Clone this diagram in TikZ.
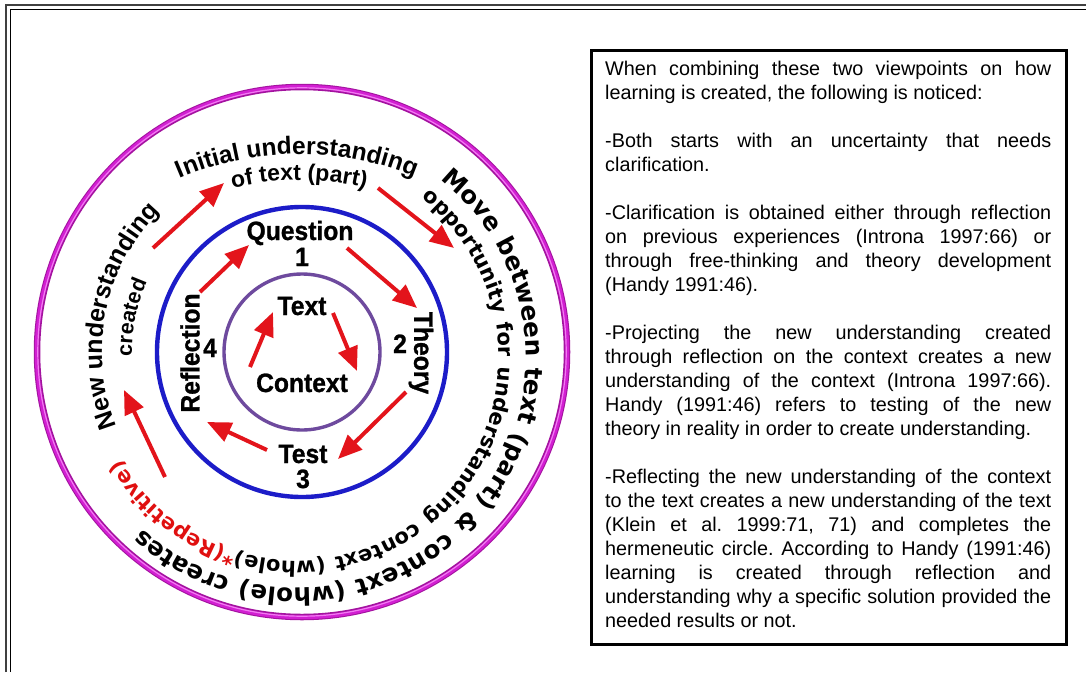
\documentclass[tikz,border=0pt]{standalone}
\usepackage{fontspec}
\setmainfont{Liberation Sans}
\newfontfamily\arialfont{Liberation Sans}
\newfontfamily\labfont{Liberation Sans}[FakeStretch=0.93,FakeBold=1]
\newfontfamily\verdfont{DejaVu Sans}
\usetikzlibrary{arrows.meta,decorations.text}
\definecolor{magdark}{HTML}{A3139F}
\definecolor{magmain}{HTML}{D21FD2}
\definecolor{maglight}{HTML}{F27AF2}
\definecolor{ringblue}{HTML}{1C1CC8}
\definecolor{ringpurple}{HTML}{6E4A9E}
\definecolor{arrred}{HTML}{E3141B}
\definecolor{txtred}{HTML}{E01010}
\newcommand\fmove{\verdfont\bfseries\fontsize{24.5}{28}\selectfont}
\newcommand\fopp{\verdfont\bfseries\fontsize{21}{25}\selectfont}
\newcommand\foppred{\verdfont\bfseries\fontsize{21}{25}\selectfont\color{txtred}}
\newcommand\ftop{\arialfont\bfseries\fontsize{24.5}{28}\selectfont}
\newcommand\fof{\arialfont\bfseries\fontsize{23}{27}\selectfont}
\newcommand\fnew{\arialfont\bfseries\fontsize{25}{29}\selectfont}
\newcommand\fcre{\arialfont\bfseries\fontsize{21.5}{25}\selectfont}
\begin{document}
\begin{tikzpicture}[x=1pt,y=1pt,
  redarr/.style={draw=arrred, line width=4pt, -{Triangle[length=24pt,width=20pt,fill=arrred]}},
  lab/.style={font=\labfont\bfseries\fontsize{26.5}{28}\selectfont, inner sep=0pt},
  curvetext/.style={decorate, decoration={text along path, text align=center}}]
\useasboundingbox (0,0) rectangle (1086,-672);
\fill[white] (0,0) rectangle (1086,-672);
% page frame (double line)
\draw[line width=1.4pt, black!75] (6,-672) -- (6,-5) -- (1086,-5);
\draw[line width=1.4pt, black] (10.5,-672) -- (10.5,-9.5) -- (1086,-9.5);
% centres
\coordinate (C) at (302,-352);
\coordinate (T) at (299,-456);
\coordinate (R) at (296,-358);
% rings
\draw[magdark, line width=6.5pt] (C) circle[radius=265];
\draw[magmain, line width=3.8pt] (C) circle[radius=265.3];
\draw[maglight, line width=1.2pt] (C) circle[radius=264.2];
\draw[ringblue, line width=4.4pt] (C) circle[radius=145];
\draw[ringpurple, line width=3.4pt] (C) circle[radius=78];
% inner labels
\node[lab, anchor=base] (question) at (300,-240) {Question};
\node[lab, anchor=base] (n1) at (302,-266) {1};
\node[lab, anchor=base] (text) at (302,-315) {Text};
\node[lab, anchor=base] (context) at (302,-392) {Context};
\node[lab, anchor=base] (test) at (303,-463) {Test};
\node[lab, anchor=base] (n3) at (303,-488) {3};
\node[lab, anchor=base] (n2) at (400,-353) {2};
\node[lab, anchor=base] (n4) at (210,-357) {4};
\node[lab, rotate=-90] (theory) at (421,-353) {Theory};
\node[lab, rotate=90] (reflection) at (190,-353) {Reflection};
% arrow end points
\coordinate (a1s) at (250,-367); \coordinate (a1e) at (273,-312);
\coordinate (a2s) at (333,-313); \coordinate (a2e) at (357,-371);
\coordinate (a3s) at (347,-248); \coordinate (a3e) at (417,-308);
\coordinate (a4s) at (406,-392); \coordinate (a4e) at (338,-459);
\coordinate (a5s) at (267,-450); \coordinate (a5e) at (207,-422);
\coordinate (a6s) at (200,-292); \coordinate (a6e) at (249,-245);
\coordinate (a7s) at (153,-248); \coordinate (a7e) at (224,-183);
\coordinate (a8s) at (378,-188); \coordinate (a8e) at (454,-248);
\coordinate (a9s) at (165,-477); \coordinate (a9e) at (124,-390);
\foreach \i in {1,...,9} {\draw[redarr] (a\i s) -- (a\i e);}
% curved outer texts
\path[decorate, decoration={text along path, text align={fit to path stretching spaces},
  text={|\fmove|Move between text (part) {\&} context (whole) creates}}]
  (R) ++(51:230) arc[start angle=51, end angle=-132, radius=230];
\path[decorate, decoration={text along path, text align={fit to path stretching spaces},
  text={|\fopp|opportunity for understanding context (whole)|\foppred|*(Repetitive)}}]
  (R) ++(52:203) arc[start angle=52, end angle=-150, radius=203];
\path[curvetext, decoration={text={|\ftop|Initial understanding}}]
  (T) ++(125:302) arc[start angle=125, end angle=55.8, radius=302];
\path[curvetext, decoration={text={|\fof|of text (part)}}]
  (T) ++(115:276) arc[start angle=115, end angle=65, radius=276];
\path[curvetext, decoration={text={|\fnew|New understanding}}]
  (C) ++(220:200) arc[start angle=220, end angle=117, radius=200];
\path[curvetext, decoration={text={|\fcre|created}}]
  (C) ++(200:170) arc[start angle=200, end angle=137, radius=170];
% text box
\node[draw, line width=2.8pt, anchor=north west, minimum width=475pt, minimum height=594pt, inner sep=0pt] (box) at (590,-49) {};
\node[anchor=base west, inner sep=0pt, text width=446pt, align=justify,
  font=\arialfont\fontsize{19.8}{24}\selectfont] (body) at (605,-75) {%
\setlength{\parskip}{24pt}\hyphenpenalty=10000 \exhyphenpenalty=10000 \tolerance=10000 \frenchspacing
When combining these two viewpoints on how\linebreak learning is created, the following is noticed:\par
-Both starts with an uncertainty that needs\linebreak clarification.\par
-Clarification is obtained either through reflection\linebreak on previous experiences (Introna 1997:66) or\linebreak through free-thinking and theory development\linebreak (Handy 1991:46).\par
-Projecting the new understanding created\linebreak through reflection on the context creates a new\linebreak understanding of the context (Introna 1997:66).\linebreak Handy (1991:46) refers to testing of the new\linebreak theory in reality in order to create understanding.\par
-Reflecting the new understanding of the context\linebreak to the text creates a new understanding of the text\linebreak (Klein et al. 1999:71, 71) and completes the\linebreak hermeneutic circle. According to Handy (1991:46)\linebreak learning is created through reflection and\linebreak understanding why a specific solution provided the\linebreak needed results or not.};
\end{tikzpicture}
\end{document}
